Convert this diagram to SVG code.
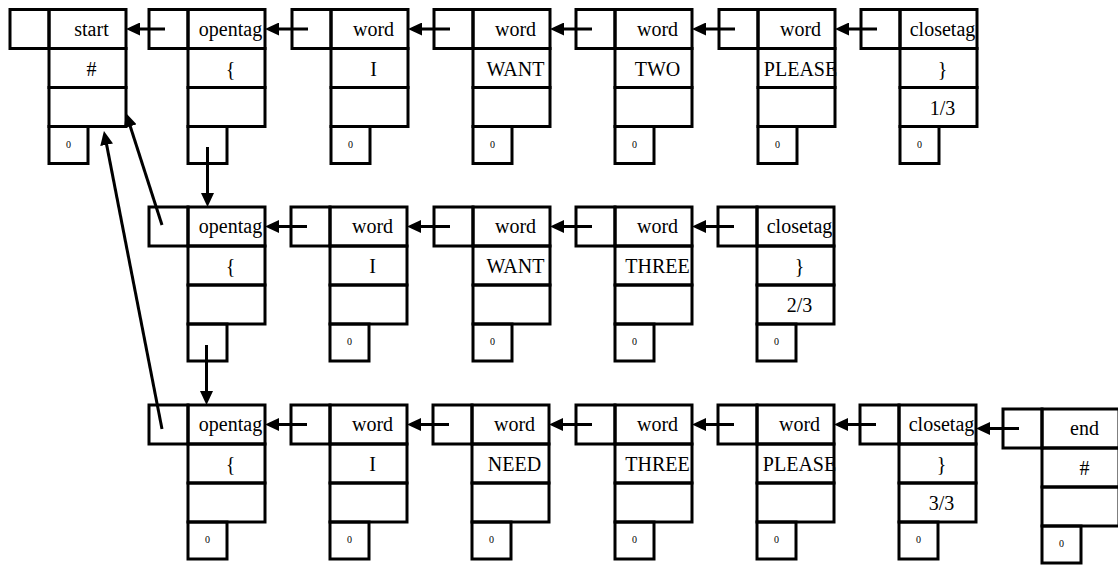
<svg xmlns="http://www.w3.org/2000/svg" width="1118" height="565" viewBox="0 0 1118 565">
<style>
.b{fill:none;stroke:#000;stroke-width:3}
.t{font-family:"Liberation Serif",serif;font-size:20px;text-anchor:middle;fill:#000}
.s{font-family:"Liberation Serif",serif;font-size:10px;text-anchor:middle;fill:#000}
.c{stroke:#000;stroke-width:3;fill:none;marker-end:url(#ah)}
</style>
<defs>
<marker id="ah" viewBox="0 0 14 13" refX="8" refY="6.5" markerWidth="14" markerHeight="13" markerUnits="userSpaceOnUse" orient="auto">
<path d="M0,0 L14,6.5 L0,13 Z" fill="#000"/>
</marker>
<g id="frame">
<rect class="b" x="0" y="0" width="39" height="39"/>
<rect class="b" x="39" y="0" width="77" height="39"/>
<rect class="b" x="39" y="39" width="77" height="39"/>
<rect class="b" x="39" y="78" width="77" height="39"/>
<rect class="b" x="39" y="117" width="39" height="37"/>
</g>
</defs>
<rect width="1118" height="565" fill="#fff"/>

<!-- Row 1 -->
<g id="r1-start" transform="translate(10,9.5)"><text class="t" x="81.5" y="26">start</text><text class="t" x="81.5" y="66">#</text><text class="s" x="58.5" y="138">0</text><use href="#frame"/></g>
<g id="r1-opentag" transform="translate(149,9.5)"><text class="t" x="81.5" y="26">opentag</text><text class="t" x="81.5" y="66">{</text><use href="#frame"/></g>
<g id="r1-word1" transform="translate(292,9.5)"><text class="t" x="81.5" y="26">word</text><text class="t" x="81.5" y="66">I</text><text class="s" x="58.5" y="138">0</text><use href="#frame"/></g>
<g id="r1-word2" transform="translate(434,9.5)"><text class="t" x="81.5" y="26">word</text><text class="t" x="81.5" y="66">WANT</text><text class="s" x="58.5" y="138">0</text><use href="#frame"/></g>
<g id="r1-word3" transform="translate(576,9.5)"><text class="t" x="81.5" y="26">word</text><text class="t" x="81.5" y="66">TWO</text><text class="s" x="58.5" y="138">0</text><use href="#frame"/></g>
<g id="r1-word4" transform="translate(719,9.5)"><text class="t" x="81.5" y="26">word</text><text class="t" x="81.5" y="66">PLEASE</text><text class="s" x="58.5" y="138">0</text><use href="#frame"/></g>
<g id="r1-closetag" transform="translate(861,9.5)"><text class="t" x="81.5" y="26">closetag</text><text class="t" x="81.5" y="66">}</text><text class="t" x="81.5" y="105">1/3</text><text class="s" x="58.5" y="138">0</text><use href="#frame"/></g>

<!-- Row 2 -->
<g id="r2-opentag" transform="translate(149,207)"><text class="t" x="81.5" y="26">opentag</text><text class="t" x="81.5" y="66">{</text><use href="#frame"/></g>
<g id="r2-word1" transform="translate(291,207)"><text class="t" x="81.5" y="26">word</text><text class="t" x="81.5" y="66">I</text><text class="s" x="58.5" y="138">0</text><use href="#frame"/></g>
<g id="r2-word2" transform="translate(434,207)"><text class="t" x="81.5" y="26">word</text><text class="t" x="81.5" y="66">WANT</text><text class="s" x="58.5" y="138">0</text><use href="#frame"/></g>
<g id="r2-word3" transform="translate(576,207)"><text class="t" x="81.5" y="26">word</text><text class="t" x="81.5" y="66">THREE</text><text class="s" x="58.5" y="138">0</text><use href="#frame"/></g>
<g id="r2-closetag" transform="translate(718,207)"><text class="t" x="81.5" y="26">closetag</text><text class="t" x="81.5" y="66">}</text><text class="t" x="81.5" y="105">2/3</text><text class="s" x="58.5" y="138">0</text><use href="#frame"/></g>

<!-- Row 3 -->
<g id="r3-opentag" transform="translate(149,405)"><text class="t" x="81.5" y="26">opentag</text><text class="t" x="81.5" y="66">{</text><text class="s" x="58.5" y="138">0</text><use href="#frame"/></g>
<g id="r3-word1" transform="translate(291,405)"><text class="t" x="81.5" y="26">word</text><text class="t" x="81.5" y="66">I</text><text class="s" x="58.5" y="138">0</text><use href="#frame"/></g>
<g id="r3-word2" transform="translate(433,405)"><text class="t" x="81.5" y="26">word</text><text class="t" x="81.5" y="66">NEED</text><text class="s" x="58.5" y="138">0</text><use href="#frame"/></g>
<g id="r3-word3" transform="translate(576,405)"><text class="t" x="81.5" y="26">word</text><text class="t" x="81.5" y="66">THREE</text><text class="s" x="58.5" y="138">0</text><use href="#frame"/></g>
<g id="r3-word4" transform="translate(718,405)"><text class="t" x="81.5" y="26">word</text><text class="t" x="81.5" y="66">PLEASE</text><text class="s" x="58.5" y="138">0</text><use href="#frame"/></g>
<g id="r3-closetag" transform="translate(860,405)"><text class="t" x="81.5" y="26">closetag</text><text class="t" x="81.5" y="66">}</text><text class="t" x="81.5" y="105">3/3</text><text class="s" x="58.5" y="138">0</text><use href="#frame"/></g>
<g id="r3-end" transform="translate(1003,409)"><text class="t" x="81.5" y="26">end</text><text class="t" x="81.5" y="66">#</text><text class="s" x="58.5" y="138">0</text><use href="#frame"/></g>

<g id="connectors">
<!-- row 1 -->
<line class="c" x1="165" y1="29" x2="132" y2="29"/>
<line class="c" x1="308" y1="29" x2="271" y2="29"/>
<line class="c" x1="450" y1="29" x2="414" y2="29"/>
<line class="c" x1="592" y1="29" x2="556" y2="29"/>
<line class="c" x1="735" y1="29" x2="698" y2="29"/>
<line class="c" x1="877" y1="29" x2="841" y2="29"/>
<!-- row 2 -->
<line class="c" x1="307" y1="226.5" x2="271" y2="226.5"/>
<line class="c" x1="450" y1="226.5" x2="413" y2="226.5"/>
<line class="c" x1="592" y1="226.5" x2="556" y2="226.5"/>
<line class="c" x1="734" y1="226.5" x2="698" y2="226.5"/>
<!-- row 3 -->
<line class="c" x1="307" y1="424.5" x2="271" y2="424.5"/>
<line class="c" x1="449" y1="424.5" x2="413" y2="424.5"/>
<line class="c" x1="592" y1="424.5" x2="555" y2="424.5"/>
<line class="c" x1="734" y1="424.5" x2="698" y2="424.5"/>
<line class="c" x1="876" y1="424.5" x2="840" y2="424.5"/>
<line class="c" x1="1019" y1="428.5" x2="982" y2="428.5"/>
<!-- vertical -->
<line class="c" x1="207.5" y1="147" x2="207.5" y2="201"/>
<line class="c" x1="206.5" y1="345" x2="206.5" y2="399"/>
<!-- diagonal -->
<line class="c" x1="162" y1="225" x2="127.8" y2="118.7"/>
<line class="c" x1="162" y1="429" x2="105.1" y2="136.9"/>
</g>
</svg>
